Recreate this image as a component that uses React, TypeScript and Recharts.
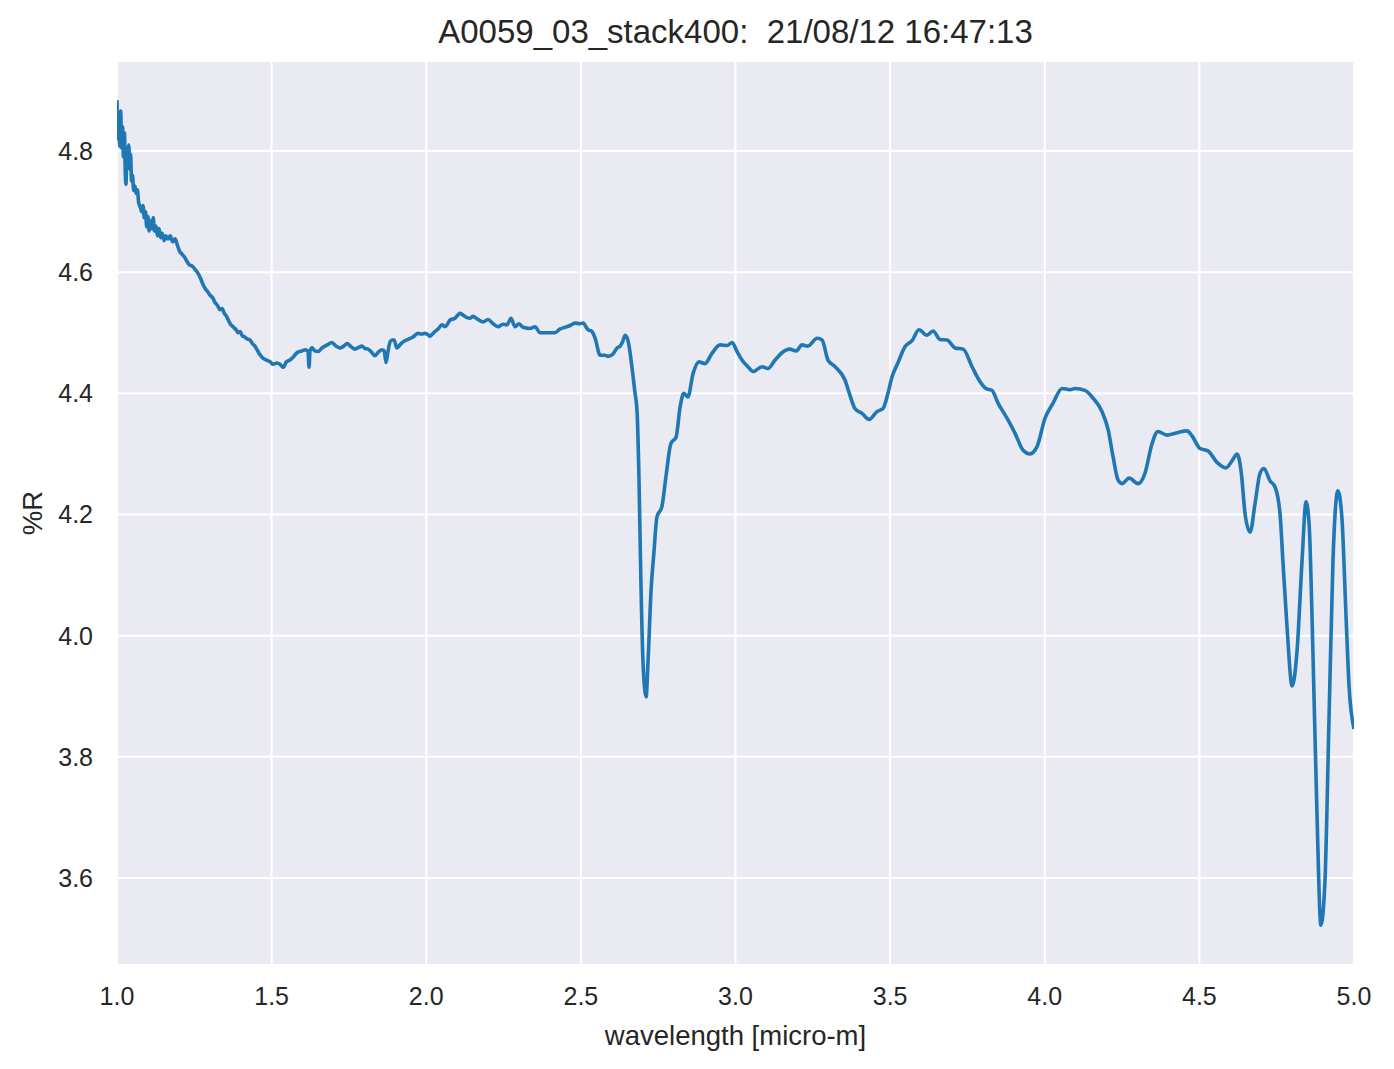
import { LineChart, Line, XAxis, YAxis, CartesianGrid } from 'recharts';

const TITLE = 'A0059_03_stack400:  21/08/12 16:47:13';
const X_LABEL = 'wavelength [micro-m]';
const Y_LABEL = '%R';

const X_TICKS = [1.0, 1.5, 2.0, 2.5, 3.0, 3.5, 4.0, 4.5, 5.0];
const Y_TICKS = [3.6, 3.8, 4.0, 4.2, 4.4, 4.6, 4.8];

// wavelength (micro-m)
const WAVELENGTH = [
  1.000, 1.003, 1.006, 1.009, 1.012, 1.015, 1.018, 1.021, 1.024, 1.027,
  1.029, 1.032, 1.035, 1.038, 1.041, 1.044, 1.047, 1.050, 1.054, 1.058,
  1.062, 1.066, 1.070, 1.075, 1.080, 1.084, 1.088, 1.092, 1.096, 1.100,
  1.104, 1.108, 1.112, 1.117, 1.121, 1.126, 1.131, 1.136, 1.141, 1.146,
  1.152, 1.158, 1.165, 1.172, 1.180, 1.188, 1.195, 1.202, 1.210, 1.218,
  1.226, 1.234, 1.243, 1.252, 1.262, 1.270, 1.278, 1.285, 1.293, 1.301,
  1.309, 1.317, 1.325, 1.333, 1.340, 1.347, 1.353, 1.359, 1.366, 1.375,
  1.385, 1.392, 1.398, 1.405, 1.413, 1.420, 1.430, 1.438, 1.446, 1.453,
  1.462, 1.472, 1.483, 1.495, 1.505, 1.517, 1.527, 1.537, 1.548, 1.559,
  1.570, 1.582, 1.598, 1.610, 1.618, 1.621, 1.624, 1.631, 1.640, 1.650,
  1.663, 1.680, 1.695, 1.708, 1.721, 1.733, 1.744, 1.757, 1.770, 1.782,
  1.792, 1.802, 1.812, 1.823, 1.834, 1.845, 1.857, 1.864, 1.870, 1.876,
  1.883, 1.890, 1.896, 1.905, 1.915, 1.925, 1.941, 1.957, 1.973, 1.985,
  1.996, 2.005, 2.012, 2.020, 2.028, 2.038, 2.051, 2.060, 2.067, 2.077,
  2.093, 2.100, 2.109, 2.117, 2.125, 2.141, 2.151, 2.167, 2.184, 2.200,
  2.216, 2.232, 2.248, 2.261, 2.274, 2.287, 2.300, 2.313, 2.335, 2.352,
  2.368, 2.390, 2.416, 2.432, 2.449, 2.465, 2.481, 2.497, 2.507, 2.523,
  2.536, 2.546, 2.562, 2.578, 2.588, 2.604, 2.617, 2.627, 2.635, 2.643,
  2.652, 2.665, 2.674, 2.682, 2.688, 2.694, 2.701, 2.711, 2.717, 2.727,
  2.736, 2.746, 2.762, 2.775, 2.791, 2.808, 2.821, 2.833, 2.846, 2.863,
  2.882, 2.901, 2.924, 2.950, 2.973, 2.989, 3.005, 3.021, 3.040, 3.057,
  3.086, 3.105, 3.128, 3.150, 3.176, 3.196, 3.215, 3.234, 3.264, 3.280,
  3.299, 3.322, 3.354, 3.370, 3.386, 3.409, 3.432, 3.458, 3.477, 3.493,
  3.506, 3.525, 3.548, 3.571, 3.593, 3.619, 3.639, 3.661, 3.684, 3.710,
  3.736, 3.765, 3.784, 3.810, 3.829, 3.849, 3.878, 3.904, 3.930, 3.952,
  3.975, 4.001, 4.027, 4.056, 4.082, 4.098, 4.130, 4.153, 4.185, 4.205,
  4.221, 4.237, 4.250, 4.273, 4.302, 4.324, 4.347, 4.366, 4.395, 4.428,
  4.460, 4.476, 4.502, 4.528, 4.557, 4.586, 4.606, 4.622, 4.635, 4.648,
  4.664, 4.680, 4.696, 4.709, 4.728, 4.745, 4.761, 4.770, 4.783, 4.800,
  4.816, 4.832, 4.845, 4.855, 4.867, 4.880, 4.893, 4.906, 4.919, 4.932,
  4.948, 4.961, 4.974, 4.984, 5.000,
];

// reflectance (%R)
const REFLECTANCE = [
  4.884, 4.820, 4.862, 4.808, 4.866, 4.805, 4.840, 4.790, 4.830, 4.760,
  4.745, 4.805, 4.775, 4.810, 4.770, 4.795, 4.750, 4.760, 4.735, 4.742,
  4.730, 4.736, 4.715, 4.708, 4.700, 4.710, 4.690, 4.700, 4.675, 4.692,
  4.668, 4.685, 4.672, 4.690, 4.668, 4.676, 4.660, 4.672, 4.657, 4.664,
  4.652, 4.660, 4.655, 4.660, 4.650, 4.655, 4.645, 4.635, 4.630, 4.625,
  4.618, 4.612, 4.610, 4.605, 4.598, 4.590, 4.580, 4.573, 4.568, 4.562,
  4.558, 4.550, 4.545, 4.538, 4.540, 4.532, 4.528, 4.522, 4.515, 4.510,
  4.505, 4.500, 4.502, 4.495, 4.493, 4.490, 4.488, 4.482, 4.478, 4.472,
  4.464, 4.458, 4.455, 4.452, 4.448, 4.450, 4.448, 4.443, 4.452, 4.455,
  4.460, 4.467, 4.470, 4.472, 4.468, 4.443, 4.470, 4.475, 4.470, 4.469,
  4.475, 4.480, 4.484, 4.478, 4.475, 4.478, 4.482, 4.477, 4.473, 4.476,
  4.478, 4.474, 4.473, 4.468, 4.462, 4.468, 4.472, 4.470, 4.451, 4.468,
  4.485, 4.488, 4.488, 4.475, 4.480, 4.485, 4.489, 4.493, 4.499, 4.498,
  4.499, 4.497, 4.494, 4.498, 4.502, 4.506, 4.513, 4.510, 4.513, 4.521,
  4.524, 4.528, 4.532, 4.530, 4.527, 4.524, 4.527, 4.522, 4.518, 4.522,
  4.515, 4.510, 4.514, 4.513, 4.524, 4.510, 4.515, 4.509, 4.507, 4.510,
  4.500, 4.500, 4.500, 4.506, 4.509, 4.512, 4.516, 4.515, 4.516, 4.505,
  4.502, 4.491, 4.463, 4.463, 4.461, 4.465, 4.475, 4.478, 4.485, 4.496,
  4.488, 4.444, 4.405, 4.367, 4.257, 4.092, 3.955, 3.899, 3.955, 4.075,
  4.136, 4.196, 4.213, 4.262, 4.317, 4.328, 4.378, 4.400, 4.394, 4.433,
  4.452, 4.449, 4.466, 4.480, 4.479, 4.484, 4.469, 4.455, 4.444, 4.436,
  4.444, 4.441, 4.455, 4.467, 4.473, 4.470, 4.480, 4.478, 4.491, 4.488,
  4.455, 4.444, 4.422, 4.397, 4.375, 4.367, 4.357, 4.370, 4.375, 4.400,
  4.427, 4.450, 4.477, 4.487, 4.505, 4.496, 4.503, 4.489, 4.488, 4.475,
  4.473, 4.444, 4.425, 4.408, 4.405, 4.384, 4.359, 4.334, 4.306, 4.300,
  4.312, 4.359, 4.384, 4.408, 4.406, 4.408, 4.405, 4.394, 4.370, 4.340,
  4.295, 4.257, 4.251, 4.260, 4.251, 4.268, 4.317, 4.337, 4.331, 4.335,
  4.338, 4.330, 4.309, 4.305, 4.286, 4.277, 4.289, 4.300, 4.271, 4.200,
  4.171, 4.218, 4.268, 4.276, 4.256, 4.245, 4.200, 4.124, 4.018, 3.917,
  3.976, 4.124, 4.221, 4.183, 3.976, 3.711, 3.522, 3.593, 3.858, 4.124,
  4.239, 4.194, 4.035, 3.917, 3.846,
];

const data = WAVELENGTH.map((w, i) => ({ w, r: REFLECTANCE[i] }));

const FONT = "'Liberation Sans', Arial, sans-serif";
const TEXT = '#262626';

export default function App() {
  return (
    <div style={{ position: 'absolute', left: 0, top: 0, width: 1394, height: 1069, background: '#fff', fontFamily: FONT }}>
      <div
        style={{
          position: 'absolute', left: 117, top: 16, width: 1237, textAlign: 'center',
          fontSize: 33, lineHeight: '32px', color: TEXT, whiteSpace: 'pre',
        }}
      >
        {TITLE}
      </div>
      <LineChart
        width={1394}
        height={1069}
        data={data}
        margin={{ top: 61, right: 40, left: 32, bottom: 14 }}
      >
        <CartesianGrid stroke="#ffffff" strokeWidth={2} fill="#EAEAF2" fillOpacity={1} />
        <XAxis
          dataKey="w"
          type="number"
          domain={[1, 5]}
          ticks={X_TICKS}
          allowDataOverflow
          tickFormatter={(v) => v.toFixed(1)}
          axisLine={false}
          tickLine={false}
          tickMargin={16}
          height={90}
          tick={{ fill: TEXT, fontSize: 25, fontFamily: FONT }}
          label={{ value: X_LABEL, position: 'insideBottom', offset: 10, fill: TEXT, fontSize: 27.5, fontFamily: FONT }}
        />
        <YAxis
          type="number"
          domain={[3.4564, 4.9486]}
          ticks={Y_TICKS}
          allowDataOverflow
          tickFormatter={(v) => v.toFixed(1)}
          axisLine={false}
          tickLine={false}
          tickMargin={18}
          width={85}
          tick={{ fill: TEXT, fontSize: 25, fontFamily: FONT }}
          label={{ value: Y_LABEL, angle: -90, position: 'insideLeft', offset: 0, fill: TEXT, fontSize: 27.5, fontFamily: FONT, style: { textAnchor: 'middle' } }}
        />
        <Line
          type="monotone"
          dataKey="r"
          stroke="#1f77b4"
          strokeWidth={3.6}
          dot={false}
          activeDot={false}
          isAnimationActive={false}
        />
      </LineChart>
    </div>
  );
}
